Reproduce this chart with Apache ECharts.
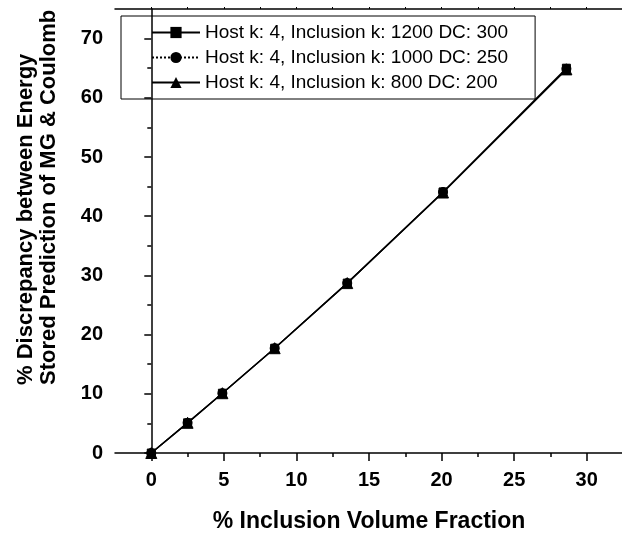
<!DOCTYPE html>
<html>
<head>
<meta charset="utf-8">
<script src="https://cdn.jsdelivr.net/npm/echarts@6/dist/echarts.min.js"></script>
<style>
html,body{margin:0;padding:0;background:#fff;}
#chart{width:622px;height:533px;}
</style>
</head>
<body>
<div id="chart"></div>
<script>
// ---- data ----
var seriesNames = [
  'Host k: 4, Inclusion k: 1200 DC: 300',
  'Host k: 4, Inclusion k: 1000 DC: 250',
  'Host k: 4, Inclusion k: 800 DC: 200'
];
var xK1200 = [0, 2.5, 4.9, 8.5, 13.5, 20.1, 28.6];
var yK1200 = [0, 5.1, 10.1, 17.7, 28.7, 44.1, 65.0];
var xK1000 = [0, 2.5, 4.9, 8.5, 13.5, 20.1, 28.6];
var yK1000 = [0, 5.1, 10.1, 17.7, 28.7, 44.1, 64.9];
var xK800  = [0, 2.5, 4.9, 8.5, 13.5, 20.1, 28.6];
var yK800  = [0, 5.1, 10.1, 17.7, 28.7, 44.0, 64.8];
var xMajorTicks = [0, 5, 10, 15, 20, 25, 30];
var xMinorTicks = [2.5, 7.5, 12.5, 17.5, 22.5, 27.5];
var yMajorTicks = [0, 10, 20, 30, 40, 50, 60, 70];
var yMinorTicks = [5, 15, 25, 35, 45, 55, 65];
var xTitle = '% Inclusion Volume Fraction';
var yTitle1 = '% Discrepancy between Energy';
var yTitle2 = 'Stored Prediction of MG & Coulomb';

function pairs(xs, ys) { return xs.map(function (x, i) { return [x, ys[i]]; }); }

var FONT = 'Arial, "Liberation Sans", sans-serif';
var chart = echarts.init(document.getElementById('chart'), null, {renderer: 'canvas'});

var axisLine = {show: true, lineStyle: {color: '#000', width: 1.5}};
var option = {
  animation: false,
  backgroundColor: '#fff',
  grid: {left: 115, right: -1, top: 9, bottom: 80, containLabel: false, outerBoundsMode: 'none'},
  legend: {
    orient: 'vertical', left: 121, top: 16,
    borderColor: '#000', borderWidth: 1,
    padding: [7, 27, 7, 30],
    itemWidth: 48, itemHeight: 14, itemGap: 6,
    textStyle: {fontFamily: FONT, fontSize: 19, color: '#000'},
    data: seriesNames
  },
  xAxis: [
    {
      type: 'value', min: -2.5, max: 32.5, position: 'bottom',
      axisLine: axisLine,
      axisTick: {show: true, inside: false, length: 8, customValues: xMajorTicks, lineStyle: {color: '#000', width: 1.5}},
      axisLabel: {show: true, customValues: xMajorTicks, margin: 17, fontFamily: FONT, fontWeight: 'bold', fontSize: 20, color: '#000'},
      splitLine: {show: false},
      name: xTitle, nameLocation: 'middle', nameGap: 57,
      nameTextStyle: {fontFamily: FONT, fontWeight: 'bold', fontSize: 23, color: '#000'}
    },
    {
      type: 'value', min: -2.5, max: 32.5, position: 'bottom',
      axisLine: {show: false},
      axisTick: {show: true, inside: false, length: 4, customValues: xMinorTicks, lineStyle: {color: '#000', width: 1.5}},
      axisLabel: {show: false},
      splitLine: {show: false}
    },
    {
      type: 'value', min: -2.5, max: 32.5, position: 'top',
      axisLine: axisLine,
      axisTick: {show: true, inside: false, length: 2, customValues: xMinorTicks.concat(xMajorTicks), lineStyle: {color: '#000', width: 1}},
      axisLabel: {show: false},
      splitLine: {show: false}
    }
  ],
  yAxis: [
    {
      type: 'value', min: 0, max: 75, position: 'left',
      axisLine: axisLine,
      axisTick: {show: true, inside: false, length: 7, customValues: yMajorTicks, lineStyle: {color: '#000', width: 1.5}},
      axisLabel: {show: true, customValues: yMajorTicks, margin: 12, fontFamily: FONT, fontWeight: 'bold', fontSize: 20, color: '#000'},
      splitLine: {show: false}
    },
    {
      type: 'value', min: 0, max: 75, position: 'left',
      axisLine: {show: false},
      axisTick: {show: true, inside: false, length: 4, customValues: yMinorTicks, lineStyle: {color: '#000', width: 1.5}},
      axisLabel: {show: false},
      splitLine: {show: false}
    }
  ],
  graphic: [
    {
      type: 'text', x: 26, y: 385, rotation: Math.PI / 2,
      style: {text: yTitle1, font: 'bold 22px ' + FONT, fill: '#000', textAlign: 'left', textVerticalAlign: 'middle'}
    },
    {
      type: 'text', x: 49, y: 385, rotation: Math.PI / 2,
      style: {text: yTitle2, font: 'bold 22px ' + FONT, fill: '#000', textAlign: 'left', textVerticalAlign: 'middle'}
    }
  ],
  series: [
    {
      name: seriesNames[0], type: 'line', xAxisIndex: 0, yAxisIndex: 0,
      data: pairs(xK1200, yK1200),
      symbol: 'rect', symbolSize: 8, showAllSymbol: true,
      lineStyle: {color: '#000', width: 1.5, type: 'solid'},
      itemStyle: {color: '#000', borderColor: '#000'}
    },
    {
      name: seriesNames[1], type: 'line', xAxisIndex: 0, yAxisIndex: 0,
      data: pairs(xK1000, yK1000),
      symbol: 'circle', symbolSize: 9, showAllSymbol: true,
      lineStyle: {color: '#000', width: 1, type: 'dotted'},
      itemStyle: {color: '#000', borderColor: '#000'}
    },
    {
      name: seriesNames[2], type: 'line', xAxisIndex: 0, yAxisIndex: 0,
      data: pairs(xK800, yK800),
      symbol: 'triangle', symbolSize: 11, showAllSymbol: true,
      lineStyle: {color: '#000', width: 1.5, type: 'solid'},
      itemStyle: {color: '#000', borderColor: '#000'}
    }
  ]
};
chart.setOption(option);
</script>
</body>
</html>
